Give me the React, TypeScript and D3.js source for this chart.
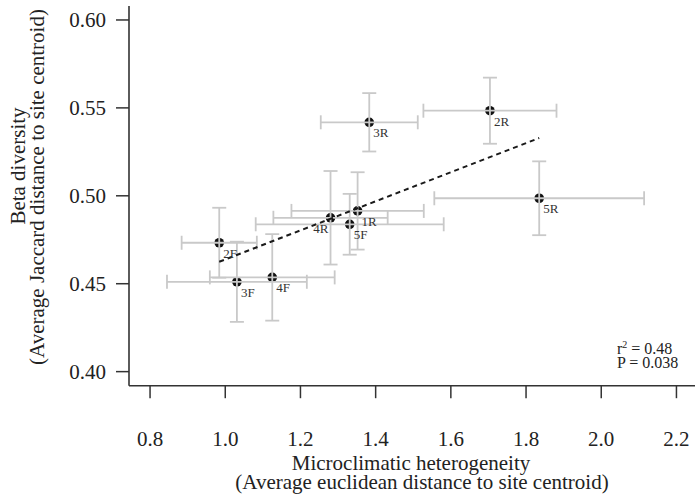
import React from 'react';
import * as d3 from 'd3';

// site codes and their mean values
const sites = ['2F', '3F', '4F', '4R', '5F', '1R', '3R', '2R', '5R'];
const heterogeneity = [0.984, 1.031, 1.125, 1.28, 1.331, 1.352, 1.383, 1.704, 1.835];
const heterogeneityErr = [0.1, 0.186, 0.166, 0.152, 0.25, 0.176, 0.129, 0.177, 0.279];
const betaDiversity = [0.4733, 0.4511, 0.4536, 0.4875, 0.4838, 0.4914, 0.5418, 0.5484, 0.4986];
const betaErr = [0.0199, 0.0228, 0.0246, 0.0266, 0.0173, 0.022, 0.0166, 0.0188, 0.021];
const labelSide = ['right', 'right', 'right', 'left', 'right', 'right', 'right', 'right', 'right'];

const xTicks = [0.8, 1.0, 1.2, 1.4, 1.6, 1.8, 2.0, 2.2];
const yTicks = [0.4, 0.45, 0.5, 0.55, 0.6];

// fitted line
const fitIntercept = 0.3811;
const fitSlope = 0.0827;
const rSquared = '0.48';
const pValue = '0.038';

const W = 695;
const H = 494;
const serif = '"Liberation Serif", "Times New Roman", serif';

export default function App() {
  const x = d3.scaleLinear().domain([0.744, 2.256]).range([129, 697.5]);
  const y = d3.scaleLinear().domain([0.392, 0.608]).range([385.7, 5.9]);

  const axisColor = '#333';
  const errColor = '#c9c9c9';
  const cap = 7;

  const xExt = d3.extent(heterogeneity) as [number, number];
  const fitLine = d3.line<number>()
    .x(d => x(d))
    .y(d => y(fitIntercept + fitSlope * d));

  return (
    <svg width={W} height={H} style={{ position: 'absolute', left: 0, top: 0, background: '#fff' }}
      fontFamily={serif}>
      {/* axes */}
      <line x1={x.range()[0]} x2={x.range()[0]} y1={y.range()[1]} y2={y.range()[0]}
        stroke={axisColor} strokeWidth={1.6} />
      <line x1={x.range()[0]} x2={W} y1={y.range()[0]} y2={y.range()[0]}
        stroke={axisColor} strokeWidth={1.6} />

      {yTicks.map(t => (
        <g key={'y' + t}>
          <line x1={x.range()[0] - 13} x2={x.range()[0]} y1={y(t)} y2={y(t)} stroke={axisColor} strokeWidth={1.5} />
          <text x={106} y={y(t) + 7} textAnchor="end" fontSize={21} fill="#222">{t.toFixed(2)}</text>
        </g>
      ))}
      {xTicks.map(t => (
        <g key={'x' + t}>
          <line x1={x(t)} x2={x(t)} y1={y.range()[0]} y2={y.range()[0] + 12.5} stroke={axisColor} strokeWidth={1.5} />
          <text x={x(t)} y={446} textAnchor="middle" fontSize={21} fill="#222">{t.toFixed(1)}</text>
        </g>
      ))}

      {/* axis titles */}
      <text x={411} y={470} textAnchor="middle" fontSize={21} fill="#222">Microclimatic heterogeneity</text>
      <text x={422} y={489} textAnchor="middle" fontSize={21} fill="#222">(Average euclidean distance to site centroid)</text>
      <text transform="translate(25,166) rotate(-90)" textAnchor="middle" fontSize={21} fill="#222">Beta diversity</text>
      <text transform="translate(44,187) rotate(-90)" textAnchor="middle" fontSize={21} fill="#222">(Average Jaccard distance to site centroid)</text>

      {/* points */}
      {sites.map((s, i) => (
        <circle key={'p' + s} cx={x(heterogeneity[i])} cy={y(betaDiversity[i])} r={4.8} fill="#111" />
      ))}

      {/* error bars, drawn over the points */}
      {sites.map((s, i) => {
        const cx = x(heterogeneity[i]);
        const cy = y(betaDiversity[i]);
        const x0 = x(heterogeneity[i] - heterogeneityErr[i]);
        const x1 = x(heterogeneity[i] + heterogeneityErr[i]);
        const y0 = y(betaDiversity[i] - betaErr[i]);
        const y1 = y(betaDiversity[i] + betaErr[i]);
        return (
          <g key={'e' + s} stroke={errColor} strokeWidth={1.8} fill="none">
            <line x1={x0} x2={x1} y1={cy} y2={cy} />
            <line x1={x0} x2={x0} y1={cy - cap} y2={cy + cap} />
            <line x1={x1} x2={x1} y1={cy - cap} y2={cy + cap} />
            <line x1={cx} x2={cx} y1={y0} y2={y1} />
            <line x1={cx - cap} x2={cx + cap} y1={y0} y2={y0} />
            <line x1={cx - cap} x2={cx + cap} y1={y1} y2={y1} />
          </g>
        );
      })}

      {/* regression */}
      <path d={fitLine(xExt) || ''} fill="none" stroke="#1a1a1a" strokeWidth={2} strokeDasharray="5,4" />

      {/* site labels */}
      {sites.map((s, i) => {
        const left = labelSide[i] === 'left';
        return (
          <text key={'l' + s}
            x={x(heterogeneity[i]) + (left ? -2 : 4)}
            y={y(betaDiversity[i]) + 15}
            textAnchor={left ? 'end' : 'start'}
            fontSize={13} fill="#333">{s}</text>
        );
      })}

      {/* statistics */}
      <text x={617} y={354} fontSize={16} fill="#222">
        r<tspan dy={-6} fontSize={10}>2</tspan><tspan dy={6}> = {rSquared}</tspan>
      </text>
      <text x={617} y={367.5} fontSize={16} fill="#222">P = {pValue}</text>
    </svg>
  );
}
